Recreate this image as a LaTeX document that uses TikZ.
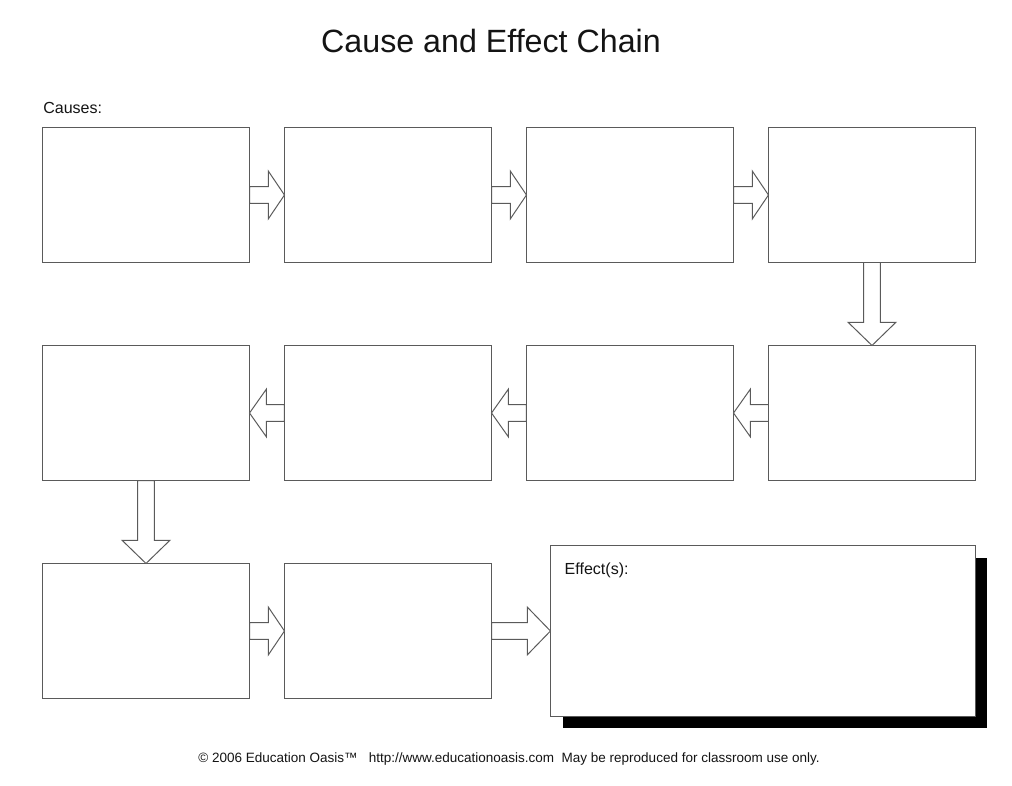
\documentclass[tikz,border=0pt]{standalone}
\usepackage{fontspec}
\setmainfont{Liberation Sans}
\usetikzlibrary{calc,shadows}
\definecolor{LineGray}{RGB}{90,90,90}
\definecolor{TextBlack}{RGB}{20,20,20}
\tikzset{
  box/.style={draw=LineGray,line width=.7pt,fill=white,minimum width=5.15cm,minimum height=3.35cm,inner sep=0pt},
  effbox/.style={box,minimum width=10.6cm,minimum height=4.25cm,drop shadow={shadow xshift=.3cm,shadow yshift=-.3cm,fill=black,opacity=1}},
  heading/.style={font=\fontsize{22.9}{27}\selectfont,text=TextBlack,inner sep=0pt},
  label/.style={font=\fontsize{11.4}{13}\selectfont,text=TextBlack,inner sep=0pt},
  foot/.style={font=\fontsize{9.6}{11}\selectfont,text=TextBlack,inner sep=0pt},
  hollow/.style={draw=LineGray,line width=.7pt,fill=white,line join=miter},
  arrowR/.style={hollow,to path={let \p1=(\tikztostart),\p2=(\tikztotarget) in
    (\x1,\y1+6pt) -- (\x2-#1,\y1+6pt) -- (\x2-#1,\y1+17pt) -- (\x2,\y1) -- (\x2-#1,\y1-17pt) -- (\x2-#1,\y1-6pt) -- (\x1,\y1-6pt) -- cycle}},
  arrowR/.default=11.5pt,
  arrowL/.style={hollow,to path={let \p1=(\tikztostart),\p2=(\tikztotarget) in
    (\x1,\y1+6pt) -- (\x2+#1,\y1+6pt) -- (\x2+#1,\y1+17pt) -- (\x2,\y1) -- (\x2+#1,\y1-17pt) -- (\x2+#1,\y1-6pt) -- (\x1,\y1-6pt) -- cycle}},
  arrowL/.default=12pt,
  arrowD/.style={hollow,to path={let \p1=(\tikztostart),\p2=(\tikztotarget) in
    (\x1-6pt,\y1) -- (\x1-6pt,\y2+#1) -- (\x1-17pt,\y2+#1) -- (\x1,\y2) -- (\x1+17pt,\y2+#1) -- (\x1+6pt,\y2+#1) -- (\x1+6pt,\y1) -- cycle}},
  arrowD/.default=16.5pt
}
\begin{document}
\begin{tikzpicture}[x=.025cm,y=-.025cm]
  \useasboundingbox[fill=white] (0,0) rectangle (1012,786);
  \node[heading,anchor=base] (title) at (491,53) {Cause and Effect Chain};
  \node[label,anchor=base west] (causes) at (43,114) {Causes:};
  % row 1
  \node[box] (c1) at (146,195) {};
  \node[box] (c2) at (388,195) {};
  \node[box] (c3) at (630,195) {};
  \node[box] (c4) at (872,195) {};
  % row 2, runs back to the left
  \node[box] (c5) at (872,413) {};
  \node[box] (c6) at (630,413) {};
  \node[box] (c7) at (388,413) {};
  \node[box] (c8) at (146,413) {};
  % row 3
  \node[box] (c9) at (146,631) {};
  \node[box] (c10) at (388,631) {};
  \node[effbox] (eff) at (763,631) {};
  \node[label,anchor=base west] (efflbl) at ([xshift=.35cm,yshift=-.73cm]eff.north west) {Effect(s):};
  \draw[arrowR] (c1.east) to (c2.west);
  \draw[arrowR] (c2.east) to (c3.west);
  \draw[arrowR] (c3.east) to (c4.west);
  \draw[arrowD] (c4.south) to (c5.north);
  \draw[arrowL] (c5.west) to (c6.east);
  \draw[arrowL] (c6.west) to (c7.east);
  \draw[arrowL] (c7.west) to (c8.east);
  \draw[arrowD] (c8.south) to (c9.north);
  \draw[arrowR] (c9.east) to (c10.west);
  \draw[arrowR=16.5pt] (c10.east) to (eff.west);
  \node[foot,anchor=base] (credit) at (509,762) {\textcopyright{} 2006 Education Oasis™\ \ \ http://www.educationoasis.com\ \ May be reproduced for classroom use only.};
\end{tikzpicture}
\end{document}
